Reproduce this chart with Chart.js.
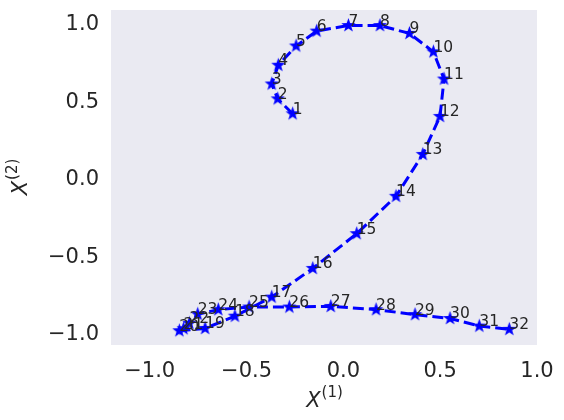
<!DOCTYPE html>
<html>
<head>
<meta charset="utf-8">
<script src="https://cdn.jsdelivr.net/npm/chart.js@4"></script>
<style>
  body { margin: 0; background: #fff; }
  canvas { display: block; }
</style>
</head>
<body>
<canvas id="myChart" width="564" height="420"></canvas>
<script>
// trajectory, one entry per step (1..32)
const x1 = [-0.262, -0.339, -0.370, -0.336, -0.244, -0.138, 0.026, 0.189, 0.341, 0.465,
            0.520, 0.499, 0.410, 0.272, 0.069, -0.158, -0.370, -0.560, -0.714, -0.847,
            -0.825, -0.795, -0.752, -0.646, -0.487, -0.279, -0.065, 0.169, 0.370, 0.551,
            0.702, 0.857];
const x2 = [0.426, 0.522, 0.618, 0.739, 0.863, 0.959, 0.995, 0.995, 0.944, 0.825,
            0.650, 0.409, 0.164, -0.106, -0.347, -0.571, -0.756, -0.879, -0.958, -0.973,
            -0.960, -0.925, -0.866, -0.837, -0.820, -0.820, -0.816, -0.837, -0.869, -0.894,
            -0.943, -0.964];
const stepLabels = ["1", "2", "3", "4", "5", "6", "7", "8", "9", "10", "11", "12", "13", "14",
                    "15", "16", "17", "18", "19", "20", "21", "22", "23", "24", "25", "26",
                    "27", "28", "29", "30", "31", "32"];
const xTicks = [-1.0, -0.5, 0.0, 0.5, 1.0];
const yTicks = [-1.0, -0.5, 0.0, 0.5, 1.0];

const TEXT = "#262626";
const FONT = "'DejaVu Sans', sans-serif";

// filled five-point star like matplotlib's '*'
function makeStar(r, color) {
	const c = document.createElement("canvas");
	const s = Math.ceil(r * 2 + 2);
	c.width = c.height = s;
	const g = c.getContext("2d");
	g.beginPath();
	for (let k = 0; k < 10; k++) {
		const rad = k % 2 ? r * 0.4 : r;
		const a = -Math.PI / 2 + (k * Math.PI) / 5;
		g.lineTo(s / 2 + rad * Math.cos(a), s / 2 + rad * Math.sin(a));
	}
	g.closePath();
	g.fillStyle = color;
	g.fill();
	return c;
}
const star = makeStar(7.5, "#0000ff");

const fmt = (v) => v.toFixed(1).replace("-", "\u2212");

const plotBg = {
	id: "plotBg",
	beforeDraw(chart) {
		const { ctx, chartArea: a } = chart;
		ctx.save();
		ctx.fillStyle = "#eaeaf2";
		ctx.fillRect(a.left, a.top, a.right - a.left, a.bottom - a.top);
		ctx.restore();
	},
};

const stepNumbers = {
	id: "stepNumbers",
	afterDatasetsDraw(chart) {
		const { ctx } = chart;
		const meta = chart.getDatasetMeta(0);
		ctx.save();
		ctx.font = "15.5px " + FONT;
		ctx.fillStyle = TEXT;
		ctx.textAlign = "left";
		ctx.textBaseline = "alphabetic";
		meta.data.forEach((pt, i) => ctx.fillText(stepLabels[i], pt.x, pt.y));
		ctx.restore();
	},
};

// X^(1) and X^(2) with a real superscript
function drawSupLabel(ctx, base, sup) {
	ctx.font = "italic 21px " + FONT;
	const w1 = ctx.measureText(base).width;
	ctx.font = "15px " + FONT;
	const w2 = ctx.measureText(sup).width;
	const start = -(w1 + w2) / 2;
	ctx.font = "italic 21px " + FONT;
	ctx.fillText(base, start, 0);
	ctx.font = "15px " + FONT;
	ctx.fillText(sup, start + w1 + 1, -10);
}

const axisTitles = {
	id: "axisTitles",
	afterDraw(chart) {
		const { ctx, chartArea: a } = chart;
		ctx.save();
		ctx.fillStyle = TEXT;
		ctx.textAlign = "left";
		ctx.textBaseline = "alphabetic";
		ctx.translate((a.left + a.right) / 2, 407);
		drawSupLabel(ctx, "X", "(1)");
		ctx.restore();

		ctx.save();
		ctx.fillStyle = TEXT;
		ctx.textAlign = "left";
		ctx.textBaseline = "alphabetic";
		ctx.translate(27, (a.top + a.bottom) / 2);
		ctx.rotate(-Math.PI / 2);
		drawSupLabel(ctx, "X", "(2)");
		ctx.restore();
	},
};

const data = {
	datasets: [
		{
			data: x1.map((v, i) => ({ x: v, y: x2[i] })),
			showLine: true,
			borderColor: "#0000ff",
			borderWidth: 3,
			borderDash: [11, 5],
			pointStyle: star,
			pointRadius: 7,
			tension: 0,
		},
	],
};

const tickFont = { family: FONT, size: 21 };

const config = {
	type: "scatter",
	data: data,
	options: {
		responsive: false,
		animation: false,
		devicePixelRatio: 1,
		layout: { padding: { top: 7, right: 27, left: 0, bottom: 0 } },
		plugins: { legend: { display: false }, tooltip: { enabled: false } },
		scales: {
			x: {
				type: "linear",
				min: -1.2,
				max: 1.0,
				grid: { display: false, drawTicks: false },
				border: { display: false },
				ticks: { font: tickFont, color: TEXT, padding: 14, callback: fmt, maxRotation: 0 },
				afterBuildTicks: (s) => { s.ticks = xTicks.map((v) => ({ value: v })); },
				afterFit: (s) => {
					s.height = 75;
					s.paddingLeft = 0;
					s.paddingRight = 0;
				},
			},
			y: {
				type: "linear",
				min: -1.065,
				max: 1.095,
				grid: { display: false, drawTicks: false },
				border: { display: false },
				ticks: { font: tickFont, color: TEXT, padding: 12, callback: fmt },
				afterBuildTicks: (s) => { s.ticks = yTicks.map((v) => ({ value: v })); },
				afterFit: (s) => {
					s.width = 111;
					s.paddingTop = 0;
					s.paddingBottom = 0;
				},
			},
		},
	},
	plugins: [plotBg, stepNumbers, axisTitles],
};

const myChart = new Chart(document.getElementById("myChart"), config);
</script>
</body>
</html>
